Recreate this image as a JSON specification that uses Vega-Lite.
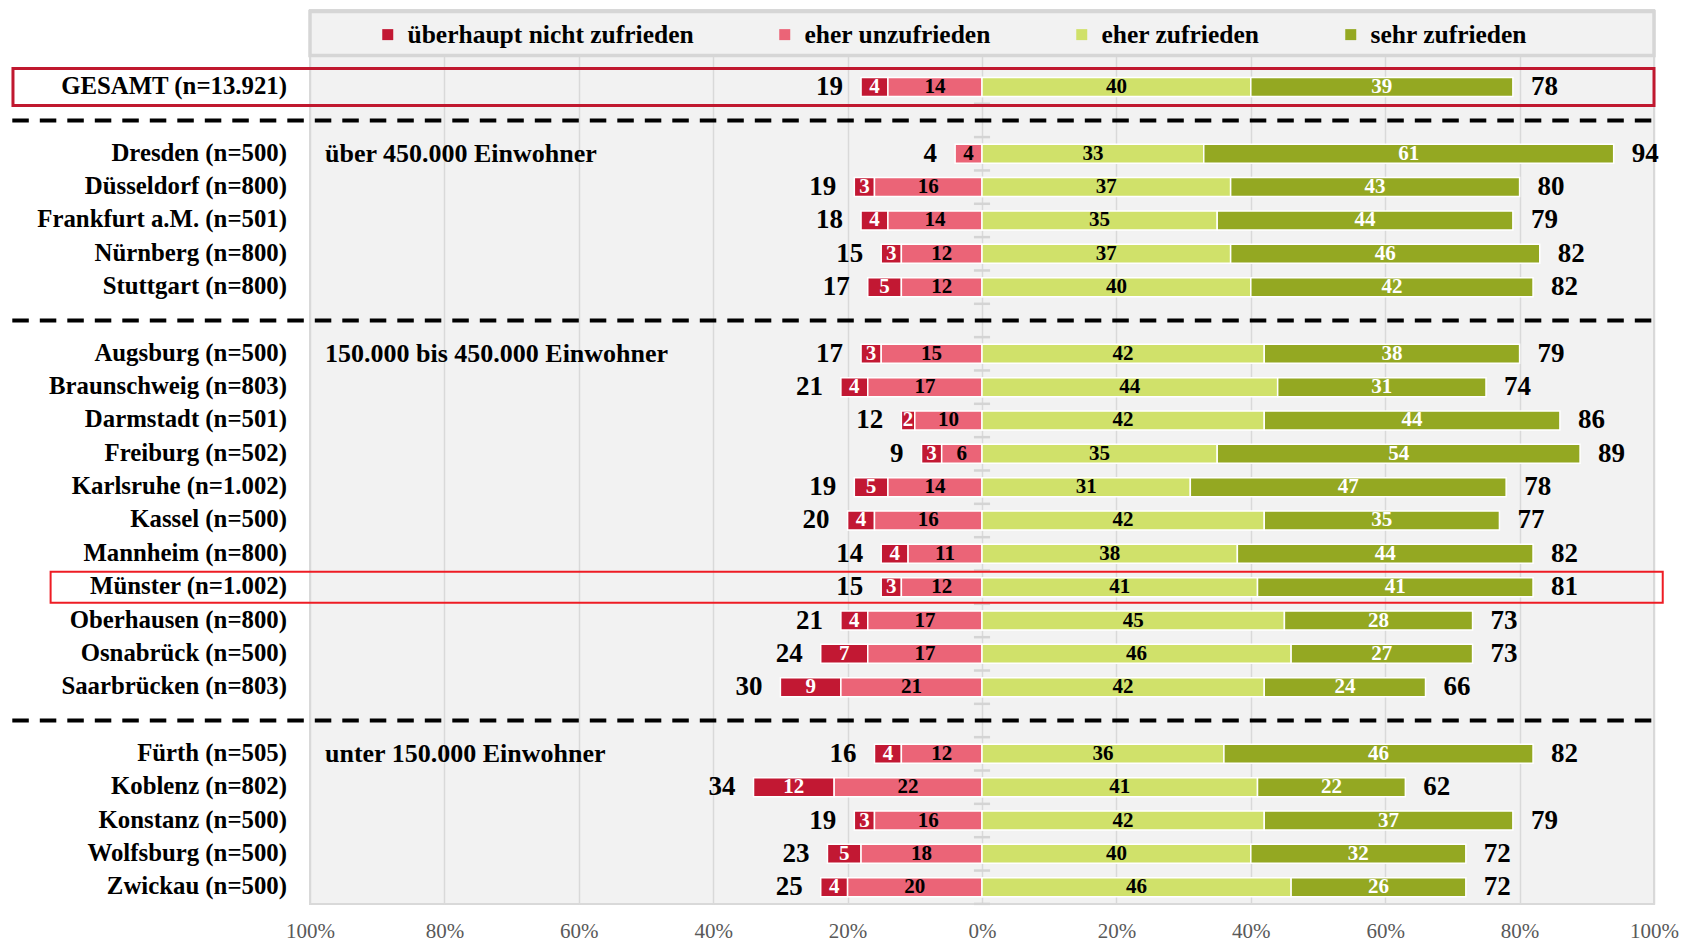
{
  "$schema": "https://vega.github.io/schema/vega-lite/v6.json",
  "autosize": {"type": "none"},
  "padding": {"left": 310, "top": 10, "right": 32, "bottom": 37},
  "width": 1344,
  "height": 894,
  "config": {
    "font": "Liberation Serif",
    "view": {"fill": "#f2f2f2", "stroke": "#d9d9d9", "strokeWidth": 2},
    "axisX": {
      "grid": true, "gridColor": "#d9d9d9", "gridWidth": 1.5,
      "domain": false, "ticks": false, "labelPadding": 16,
      "labelFont": "Liberation Serif", "labelFontSize": 21, "labelColor": "#595959",
      "labelFlush": false, "labelOverlap": false
    }
  },
  "datasets": {
    "cities": [
      {"city": "GESAMT (n=13.921)", "row": 0, "überhaupt nicht zufrieden": -4, "eher unzufrieden": -14, "eher zufrieden": 40, "sehr zufrieden": 39, "unz": 19, "zuf": 78},
      {"city": "Dresden (n=500)", "row": 2, "sec": "über 450.000 Einwohner", "überhaupt nicht zufrieden": 0, "eher unzufrieden": -4, "eher zufrieden": 33, "sehr zufrieden": 61, "unz": 4, "zuf": 94},
      {"city": "Düsseldorf (n=800)", "row": 3, "überhaupt nicht zufrieden": -3, "eher unzufrieden": -16, "eher zufrieden": 37, "sehr zufrieden": 43, "unz": 19, "zuf": 80},
      {"city": "Frankfurt a.M. (n=501)", "row": 4, "überhaupt nicht zufrieden": -4, "eher unzufrieden": -14, "eher zufrieden": 35, "sehr zufrieden": 44, "unz": 18, "zuf": 79},
      {"city": "Nürnberg (n=800)", "row": 5, "überhaupt nicht zufrieden": -3, "eher unzufrieden": -12, "eher zufrieden": 37, "sehr zufrieden": 46, "unz": 15, "zuf": 82},
      {"city": "Stuttgart (n=800)", "row": 6, "überhaupt nicht zufrieden": -5, "eher unzufrieden": -12, "eher zufrieden": 40, "sehr zufrieden": 42, "unz": 17, "zuf": 82},
      {"city": "Augsburg (n=500)", "row": 8, "sec": "150.000 bis 450.000 Einwohner", "überhaupt nicht zufrieden": -3, "eher unzufrieden": -15, "eher zufrieden": 42, "sehr zufrieden": 38, "unz": 17, "zuf": 79},
      {"city": "Braunschweig (n=803)", "row": 9, "überhaupt nicht zufrieden": -4, "eher unzufrieden": -17, "eher zufrieden": 44, "sehr zufrieden": 31, "unz": 21, "zuf": 74},
      {"city": "Darmstadt (n=501)", "row": 10, "überhaupt nicht zufrieden": -2, "eher unzufrieden": -10, "eher zufrieden": 42, "sehr zufrieden": 44, "unz": 12, "zuf": 86},
      {"city": "Freiburg (n=502)", "row": 11, "überhaupt nicht zufrieden": -3, "eher unzufrieden": -6, "eher zufrieden": 35, "sehr zufrieden": 54, "unz": 9, "zuf": 89},
      {"city": "Karlsruhe (n=1.002)", "row": 12, "überhaupt nicht zufrieden": -5, "eher unzufrieden": -14, "eher zufrieden": 31, "sehr zufrieden": 47, "unz": 19, "zuf": 78},
      {"city": "Kassel (n=500)", "row": 13, "überhaupt nicht zufrieden": -4, "eher unzufrieden": -16, "eher zufrieden": 42, "sehr zufrieden": 35, "unz": 20, "zuf": 77},
      {"city": "Mannheim (n=800)", "row": 14, "überhaupt nicht zufrieden": -4, "eher unzufrieden": -11, "eher zufrieden": 38, "sehr zufrieden": 44, "unz": 14, "zuf": 82},
      {"city": "Münster (n=1.002)", "row": 15, "überhaupt nicht zufrieden": -3, "eher unzufrieden": -12, "eher zufrieden": 41, "sehr zufrieden": 41, "unz": 15, "zuf": 81},
      {"city": "Oberhausen (n=800)", "row": 16, "überhaupt nicht zufrieden": -4, "eher unzufrieden": -17, "eher zufrieden": 45, "sehr zufrieden": 28, "unz": 21, "zuf": 73},
      {"city": "Osnabrück (n=500)", "row": 17, "überhaupt nicht zufrieden": -7, "eher unzufrieden": -17, "eher zufrieden": 46, "sehr zufrieden": 27, "unz": 24, "zuf": 73},
      {"city": "Saarbrücken (n=803)", "row": 18, "überhaupt nicht zufrieden": -9, "eher unzufrieden": -21, "eher zufrieden": 42, "sehr zufrieden": 24, "unz": 30, "zuf": 66},
      {"city": "Fürth (n=505)", "row": 20, "sec": "unter 150.000 Einwohner", "überhaupt nicht zufrieden": -4, "eher unzufrieden": -12, "eher zufrieden": 36, "sehr zufrieden": 46, "unz": 16, "zuf": 82},
      {"city": "Koblenz (n=802)", "row": 21, "überhaupt nicht zufrieden": -12, "eher unzufrieden": -22, "eher zufrieden": 41, "sehr zufrieden": 22, "unz": 34, "zuf": 62},
      {"city": "Konstanz (n=500)", "row": 22, "überhaupt nicht zufrieden": -3, "eher unzufrieden": -16, "eher zufrieden": 42, "sehr zufrieden": 37, "unz": 19, "zuf": 79},
      {"city": "Wolfsburg (n=500)", "row": 23, "überhaupt nicht zufrieden": -5, "eher unzufrieden": -18, "eher zufrieden": 40, "sehr zufrieden": 32, "unz": 23, "zuf": 72},
      {"city": "Zwickau (n=500)", "row": 24, "überhaupt nicht zufrieden": -4, "eher unzufrieden": -20, "eher zufrieden": 46, "sehr zufrieden": 26, "unz": 25, "zuf": 72}
    ],
    "seps": [{"row": 1}, {"row": 7}, {"row": 19}]
  },
  "data": {"name": "cities"},
  "layer": [
    {
      "data": {"values": [{}]},
      "mark": {"type": "rect", "fill": "#f2f2f2", "stroke": "#d6d6d6", "strokeWidth": 3.5},
      "encoding": {
        "x": {"datum": -100, "type": "quantitative", "scale": {"domain": [-100, 100], "nice": false, "padding": 0}, "axis": {"values": [-100, -80, -60, -40, -20, 0, 20, 40, 60, 80, 100], "labelExpr": "abs(datum.value) + '%'", "title": null}},
        "x2": {"datum": 100},
        "y": {"datum": -2.268, "type": "quantitative", "scale": {"domain": [-2.313, 24.504], "reverse": true, "nice": false, "zero": false, "padding": 0}, "axis": null},
        "y2": {"datum": -0.948}
      }
    },
    {
      "mark": {"type": "rule", "color": "#d4d4d4", "strokeWidth": 2.5, "yOffset": 16.67},
      "encoding": {
        "x": {"datum": -1.2, "type": "quantitative", "scale": {"domain": [-100, 100], "nice": false, "padding": 0}, "axis": {"values": [-100, -80, -60, -40, -20, 0, 20, 40, 60, 80, 100], "labelExpr": "abs(datum.value) + '%'", "title": null}},
        "x2": {"datum": 1.2},
        "y": {"field": "row", "type": "quantitative", "scale": {"domain": [-2.313, 24.504], "reverse": true, "nice": false, "zero": false, "padding": 0}, "axis": null}
      }
    },
    {
      "transform": [{"filter": "datum.row == 2 || datum.row == 8 || datum.row == 20"}],
      "mark": {"type": "rule", "color": "#d4d4d4", "strokeWidth": 2.5, "yOffset": -16.67},
      "encoding": {
        "x": {"datum": -1.2, "type": "quantitative", "scale": {"domain": [-100, 100], "nice": false, "padding": 0}, "axis": {"values": [-100, -80, -60, -40, -20, 0, 20, 40, 60, 80, 100], "labelExpr": "abs(datum.value) + '%'", "title": null}},
        "x2": {"datum": 1.2},
        "y": {"field": "row", "type": "quantitative", "scale": {"domain": [-2.313, 24.504], "reverse": true, "nice": false, "zero": false, "padding": 0}, "axis": null}
      }
    },
    {
      "data": {"name": "seps"},
      "mark": {"type": "rule", "color": "black", "strokeWidth": 4, "strokeDash": [16.5, 11]},
      "encoding": {
        "x": {"datum": -144.3, "type": "quantitative", "scale": {"domain": [-100, 100], "nice": false, "padding": 0}, "axis": {"values": [-100, -80, -60, -40, -20, 0, 20, 40, 60, 80, 100], "labelExpr": "abs(datum.value) + '%'", "title": null}},
        "x2": {"datum": 100},
        "y": {"field": "row", "type": "quantitative", "scale": {"domain": [-2.313, 24.504], "reverse": true, "nice": false, "zero": false, "padding": 0}, "axis": null}
      }
    },
    {
      "transform": [{"filter": "datum.row == 0"}],
      "mark": {"type": "bar", "orient": "horizontal", "size": 37, "fill": "transparent", "stroke": "#C0182F", "strokeWidth": 3},
      "encoding": {
        "x": {"datum": -144.2, "type": "quantitative", "scale": {"domain": [-100, 100], "nice": false, "padding": 0}, "axis": {"values": [-100, -80, -60, -40, -20, 0, 20, 40, 60, 80, 100], "labelExpr": "abs(datum.value) + '%'", "title": null}},
        "x2": {"datum": 100},
        "y": {"field": "row", "type": "quantitative", "scale": {"domain": [-2.313, 24.504], "reverse": true, "nice": false, "zero": false, "padding": 0}, "axis": null}
      }
    },
    {
      "transform": [{"filter": "datum.row == 15"}],
      "mark": {"type": "bar", "orient": "horizontal", "size": 31, "fill": "transparent", "stroke": "#EE1C24", "strokeWidth": 2},
      "encoding": {
        "x": {"datum": -138.6, "type": "quantitative", "scale": {"domain": [-100, 100], "nice": false, "padding": 0}, "axis": {"values": [-100, -80, -60, -40, -20, 0, 20, 40, 60, 80, 100], "labelExpr": "abs(datum.value) + '%'", "title": null}},
        "x2": {"datum": 101.3},
        "y": {"field": "row", "type": "quantitative", "scale": {"domain": [-2.313, 24.504], "reverse": true, "nice": false, "zero": false, "padding": 0}, "axis": null}
      }
    },
    {
      "transform": [
        {"fold": ["überhaupt nicht zufrieden", "eher unzufrieden", "eher zufrieden", "sehr zufrieden"]},
        {"filter": "datum.value != 0"}
      ],
      "mark": {"type": "bar", "orient": "horizontal", "size": 19, "stroke": "white", "strokeWidth": 1.5},
      "encoding": {
        "x": {"field": "value", "type": "quantitative", "stack": "zero", "scale": {"domain": [-100, 100], "nice": false, "padding": 0}, "axis": {"values": [-100, -80, -60, -40, -20, 0, 20, 40, 60, 80, 100], "labelExpr": "abs(datum.value) + '%'", "title": null}},
        "y": {"field": "row", "type": "quantitative", "scale": {"domain": [-2.313, 24.504], "reverse": true, "nice": false, "zero": false, "padding": 0}, "axis": null},
        "color": {
          "field": "key", "type": "nominal",
          "scale": {
            "domain": ["überhaupt nicht zufrieden", "eher unzufrieden", "eher zufrieden", "sehr zufrieden"],
            "range": ["#C21833", "#EB6477", "#D0E16A", "#94A822"]
          },
          "legend": {
            "orient": "none", "legendX": 65, "legendY": 11.5, "direction": "horizontal", "columns": 4,
            "title": null, "padding": 0,
            "labelFont": "Liberation Serif", "labelFontSize": 25.5, "labelFontWeight": "bold", "labelColor": "black",
            "labelOffset": 7, "columnPadding": 78, "labelLimit": 500,
            "symbolType": "square", "symbolSize": 121, "symbolStrokeWidth": 0
          }
        },
        "order": {"field": "key", "sort": "ascending"}
      }
    },
    {
      "transform": [
        {"fold": ["überhaupt nicht zufrieden", "eher unzufrieden", "eher zufrieden", "sehr zufrieden"]},
        {"filter": "datum.value != 0"}
      ],
      "mark": {"type": "text", "fontSize": 21, "fontWeight": "bold", "baseline": "middle", "align": "center", "text": {"expr": "abs(datum.value)"}},
      "encoding": {
        "x": {"field": "value", "type": "quantitative", "stack": "zero", "bandPosition": 0.5, "scale": {"domain": [-100, 100], "nice": false, "padding": 0}, "axis": {"values": [-100, -80, -60, -40, -20, 0, 20, 40, 60, 80, 100], "labelExpr": "abs(datum.value) + '%'", "title": null}},
        "y": {"field": "row", "type": "quantitative", "scale": {"domain": [-2.313, 24.504], "reverse": true, "nice": false, "zero": false, "padding": 0}, "axis": null},
        "detail": {"field": "key"},
        "order": {"field": "key", "sort": "ascending"},
        "color": {
          "condition": {"test": "datum.key == 'überhaupt nicht zufrieden' || datum.key == 'sehr zufrieden'", "value": "white"},
          "value": "black"
        }
      }
    },
    {
      "transform": [
        {"fold": ["überhaupt nicht zufrieden", "eher unzufrieden", "eher zufrieden", "sehr zufrieden"]},
        {"filter": "datum.value < 0"},
        {"aggregate": [{"op": "sum", "field": "value", "as": "s"}], "groupby": ["row", "unz"]}
      ],
      "mark": {"type": "text", "fontSize": 27, "fontWeight": "bold", "baseline": "middle", "align": "right", "dx": -18, "color": "black"},
      "encoding": {
        "x": {"field": "s", "type": "quantitative", "scale": {"domain": [-100, 100], "nice": false, "padding": 0}, "axis": {"values": [-100, -80, -60, -40, -20, 0, 20, 40, 60, 80, 100], "labelExpr": "abs(datum.value) + '%'", "title": null}},
        "y": {"field": "row", "type": "quantitative", "scale": {"domain": [-2.313, 24.504], "reverse": true, "nice": false, "zero": false, "padding": 0}, "axis": null},
        "text": {"field": "unz"}
      }
    },
    {
      "transform": [
        {"fold": ["überhaupt nicht zufrieden", "eher unzufrieden", "eher zufrieden", "sehr zufrieden"]},
        {"filter": "datum.value > 0"},
        {"aggregate": [{"op": "sum", "field": "value", "as": "s"}], "groupby": ["row", "zuf"]}
      ],
      "mark": {"type": "text", "fontSize": 27, "fontWeight": "bold", "baseline": "middle", "align": "left", "dx": 18, "color": "black"},
      "encoding": {
        "x": {"field": "s", "type": "quantitative", "scale": {"domain": [-100, 100], "nice": false, "padding": 0}, "axis": {"values": [-100, -80, -60, -40, -20, 0, 20, 40, 60, 80, 100], "labelExpr": "abs(datum.value) + '%'", "title": null}},
        "y": {"field": "row", "type": "quantitative", "scale": {"domain": [-2.313, 24.504], "reverse": true, "nice": false, "zero": false, "padding": 0}, "axis": null},
        "text": {"field": "zuf"}
      }
    },
    {
      "mark": {"type": "text", "fontSize": 24.8, "fontWeight": "bold", "baseline": "middle", "align": "right", "dx": -23, "color": "black"},
      "encoding": {
        "x": {"datum": -100, "type": "quantitative", "scale": {"domain": [-100, 100], "nice": false, "padding": 0}, "axis": {"values": [-100, -80, -60, -40, -20, 0, 20, 40, 60, 80, 100], "labelExpr": "abs(datum.value) + '%'", "title": null}},
        "y": {"field": "row", "type": "quantitative", "scale": {"domain": [-2.313, 24.504], "reverse": true, "nice": false, "zero": false, "padding": 0}, "axis": null},
        "text": {"field": "city"}
      }
    },
    {
      "transform": [{"filter": "isValid(datum.sec)"}],
      "mark": {"type": "text", "fontSize": 26, "fontWeight": "bold", "baseline": "middle", "align": "left", "dx": 15, "color": "black"},
      "encoding": {
        "x": {"datum": -100, "type": "quantitative", "scale": {"domain": [-100, 100], "nice": false, "padding": 0}, "axis": {"values": [-100, -80, -60, -40, -20, 0, 20, 40, 60, 80, 100], "labelExpr": "abs(datum.value) + '%'", "title": null}},
        "y": {"field": "row", "type": "quantitative", "scale": {"domain": [-2.313, 24.504], "reverse": true, "nice": false, "zero": false, "padding": 0}, "axis": null},
        "text": {"field": "sec"}
      }
    }
  ]
}
